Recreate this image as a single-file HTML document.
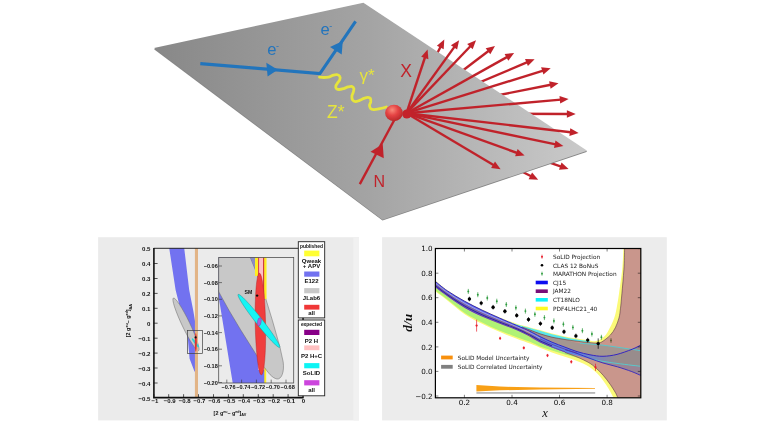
<!DOCTYPE html>
<html><head><meta charset="utf-8"><title>SoLID PVDIS</title>
<style>
html,body{margin:0;padding:0;background:#fff;}
body{width:768px;height:432px;overflow:hidden;}
svg{display:block;font-family:"Liberation Sans",sans-serif;}
.dj{font-family:"DejaVu Sans","Liberation Sans",sans-serif;}
.se{font-family:"Liberation Serif",serif;font-style:italic;}
.b{font-weight:bold;}
</style></head><body>
<svg width="768" height="432" viewBox="0 0 768 432">
<defs><filter id="soft" x="0" y="0" width="768" height="432" filterUnits="userSpaceOnUse"><feGaussianBlur stdDeviation="0.45"/></filter></defs>
<rect width="768" height="432" fill="#ffffff"/>
<g filter="url(#soft)">
<g id="top">
<defs><linearGradient id="pg" gradientUnits="userSpaceOnUse" x1="154" y1="0" x2="587" y2="0"><stop offset="0" stop-color="#888888"/><stop offset="0.5" stop-color="#a4a4a4"/><stop offset="1" stop-color="#cacaca"/></linearGradient>
<radialGradient id="bg" cx="0.4" cy="0.32" r="0.65"><stop offset="0" stop-color="#f98a7a"/><stop offset="0.5" stop-color="#e54444"/><stop offset="1" stop-color="#bc2a2c"/></radialGradient></defs>
<line x1="406.5" y1="113.2" x2="440.7" y2="46.5" stroke="#c0242c" stroke-width="2.40"/><polygon points="444.3,39.6 443.7,49.2 436.9,45.7" fill="#c0242c"/>
<line x1="406.5" y1="113.2" x2="488.8" y2="50.7" stroke="#c0242c" stroke-width="2.40"/><polygon points="495.0,46.0 490.3,54.3 485.7,48.3" fill="#c0242c"/>
<line x1="406.5" y1="113.2" x2="527.4" y2="62.2" stroke="#c0242c" stroke-width="2.40"/><polygon points="534.6,59.2 527.9,66.1 525.0,59.1" fill="#c0242c"/>
<line x1="406.5" y1="113.2" x2="550.8" y2="84.8" stroke="#c0242c" stroke-width="2.40"/><polygon points="558.5,83.3 550.6,88.8 549.1,81.3" fill="#c0242c"/>
<line x1="406.5" y1="113.2" x2="567.9" y2="114.0" stroke="#c0242c" stroke-width="2.40"/><polygon points="575.7,114.0 566.9,117.8 566.9,110.2" fill="#c0242c"/>
<line x1="406.5" y1="113.2" x2="561.2" y2="166.6" stroke="#c0242c" stroke-width="2.40"/><polygon points="568.6,169.1 559.0,169.8 561.5,162.6" fill="#c0242c"/>
<line x1="406.5" y1="113.2" x2="531.2" y2="176.3" stroke="#c0242c" stroke-width="2.40"/><polygon points="538.2,179.8 528.6,179.2 532.1,172.4" fill="#c0242c"/>
<polygon points="154,49.2 363.4,3.5 587.2,151.7 382.5,220.6" fill="#868686"/>
<polygon points="154,48.1 363.4,2.7 587.2,150.8 382.5,219.7" fill="url(#pg)"/>
<polyline points="200.3,63.6 319.9,73.6 355.6,21.4" fill="none" stroke="#2474bc" stroke-width="3.1" stroke-linejoin="miter"/>
<polygon points="266.3,62.8 277.8,69.8 267.6,76.4" fill="#2474bc"/>
<polygon points="342.8,41 330,47 341.7,54.4" fill="#2474bc"/>
<text x="267.2" y="55.2" font-size="16.6" fill="#2474bc">e</text><text x="276" y="49.3" font-size="9" fill="#2474bc">-</text>
<text x="320.4" y="35.0" font-size="16.6" fill="#2474bc">e</text><text x="329.2" y="29.2" font-size="9" fill="#2474bc">-</text>
<path d="M319.5,77.1 C320.2,77.2 322.4,77.5 323.9,77.5 C325.4,77.5 326.9,77.4 328.4,77.1 C329.9,76.8 331.4,75.8 332.8,75.4 C334.3,75.0 335.7,74.5 336.9,74.7 C338.1,74.9 339.4,75.6 339.8,76.5 C340.3,77.3 340.2,78.6 339.8,79.6 C339.5,80.7 338.4,81.8 337.7,82.8 C337.0,83.9 336.0,85.1 335.8,86.0 C335.6,87.0 335.8,88.0 336.4,88.6 C337.0,89.1 338.0,89.5 339.2,89.5 C340.4,89.5 342.2,89.0 343.7,88.6 C345.1,88.1 346.8,87.3 348.1,86.9 C349.5,86.5 350.7,86.1 351.7,86.4 C352.6,86.7 353.6,87.6 353.9,88.6 C354.1,89.6 353.5,91.1 353.2,92.4 C352.9,93.7 352.0,94.9 351.9,96.2 C351.8,97.5 352.0,99.1 352.6,100.0 C353.2,100.9 354.3,101.5 355.5,101.6 C356.7,101.6 358.2,100.9 359.6,100.4 C361.0,99.9 362.7,98.9 364.0,98.4 C365.4,97.9 366.8,97.4 367.9,97.4 C368.9,97.4 369.9,97.6 370.4,98.4 C370.9,99.1 370.8,100.8 370.7,101.9 C370.5,103.1 369.6,104.1 369.5,105.1 C369.5,106.2 369.7,107.6 370.4,108.3 C371.1,109.1 372.2,109.5 373.6,109.6 C375.0,109.7 376.6,109.4 378.7,108.9 C380.8,108.5 385.1,107.4 386.3,107.0" fill="none" stroke="#e6e43c" stroke-width="2.8" stroke-linecap="round" stroke-linejoin="round"/>
<text x="359.5" y="80.6" font-size="17" fill="#e6e43c">γ*</text>
<text x="327" y="118.3" font-size="17.5" fill="#e6e43c">Z*</text>
<line x1="406.5" y1="113.2" x2="425.1" y2="57.0" stroke="#c0242c" stroke-width="2.40"/><polygon points="427.6,49.6 428.4,59.2 421.2,56.8" fill="#c0242c"/>
<line x1="406.5" y1="113.2" x2="454.6" y2="46.6" stroke="#c0242c" stroke-width="2.40"/><polygon points="459.1,40.3 457.1,49.6 450.9,45.2" fill="#c0242c"/>
<line x1="406.5" y1="113.2" x2="470.6" y2="46.0" stroke="#c0242c" stroke-width="2.40"/><polygon points="476.0,40.3 472.7,49.3 467.2,44.1" fill="#c0242c"/>
<line x1="406.5" y1="113.2" x2="507.3" y2="56.9" stroke="#c0242c" stroke-width="2.40"/><polygon points="514.1,53.1 508.3,60.7 504.6,54.0" fill="#c0242c"/>
<line x1="406.5" y1="113.2" x2="543.2" y2="70.6" stroke="#c0242c" stroke-width="2.40"/><polygon points="550.7,68.2 543.4,74.5 541.1,67.2" fill="#c0242c"/>
<line x1="406.5" y1="113.2" x2="560.8" y2="99.6" stroke="#c0242c" stroke-width="2.40"/><polygon points="568.6,98.9 560.2,103.5 559.5,95.9" fill="#c0242c"/>
<line x1="406.5" y1="113.2" x2="570.8" y2="132.2" stroke="#c0242c" stroke-width="2.40"/><polygon points="578.6,133.1 569.4,135.9 570.3,128.3" fill="#c0242c"/>
<line x1="406.5" y1="113.2" x2="555.7" y2="144.4" stroke="#c0242c" stroke-width="2.40"/><polygon points="563.4,146.0 554.0,147.9 555.5,140.5" fill="#c0242c"/>
<line x1="406.5" y1="113.2" x2="517.3" y2="153.0" stroke="#c0242c" stroke-width="2.40"/><polygon points="524.6,155.6 515.1,156.2 517.6,149.1" fill="#c0242c"/>
<line x1="406.5" y1="113.2" x2="493.9" y2="165.3" stroke="#c0242c" stroke-width="2.40"/><polygon points="500.6,169.3 491.1,168.0 495.0,161.5" fill="#c0242c"/>
<line x1="359.8" y1="184.1" x2="394.7" y2="119.3" stroke="#c0242c" stroke-width="2.4"/>
<polygon points="370.5,151.8 382.7,144 383.8,158.2" fill="#c0242c"/>
<ellipse cx="406.8" cy="114" rx="4.6" ry="4.6" fill="#c4222a"/>
<ellipse cx="394" cy="113" rx="8.9" ry="8.3" fill="url(#bg)"/>
<text x="406" y="76.7" font-size="17.5" fill="#c0242c" text-anchor="middle">X</text>
<text x="379.4" y="186.8" font-size="16" fill="#c0242c" text-anchor="middle">N</text>
</g>
<g id="left">
<rect x="98.1" y="237.2" width="260.9" height="183.2" fill="#ebebeb"/><rect x="353.2" y="237.2" width="5.8" height="183.2" fill="#f1f1f1"/>
<defs><clipPath id="cm"><rect x="153.7" y="248.3" width="149.3" height="149.5"/></clipPath><clipPath id="ci"><rect x="218.7" y="257.5" width="75" height="125.5"/></clipPath></defs>
<g clip-path="url(#cm)">
<path d="M169.2,248 L175.6,290 L180.8,310.8 L185,325.4 L187.3,333 L188.4,345 L189.6,358.75 L194.4,371.25 L197.5,374.6 L198,350 L195,321 L193.3,310.8 L189.2,290 L184.2,248 Z" fill="#7272f0"/>
<ellipse cx="186" cy="324.4" rx="29.2" ry="3.9" transform="rotate(64.4 186 324.4)" fill="#c8c8c8" stroke="#707070" stroke-width="0.5"/>
<rect x="194.9" y="248" width="3.1" height="150" fill="#e2b486"/>
<ellipse cx="195.4" cy="342.8" rx="5.6" ry="1" transform="rotate(52 195.4 342.8)" fill="#20d8d8"/>
<ellipse cx="195.8" cy="342.4" rx="1" ry="9.3" fill="#e03030"/>
<circle cx="195.6" cy="337.4" r="1.1" fill="#101010"/>
<rect x="187.5" y="330.4" width="15" height="23.2" fill="none" stroke="#404040" stroke-width="0.7"/>
</g>
<rect x="218.7" y="257.5" width="75" height="125.5" fill="#ebebeb"/>
<g clip-path="url(#ci)">
<rect x="255" y="250" width="11.2" height="140" fill="#ffee22"/>
<polygon points="218.7,297 232.7,383 264.3,383 264.3,330 258,250 210,250" fill="#7272f0"/>
<path d="M200,250 L247,250 L250.3,257.5 L254.8,268.5 L265,296.3 L272.4,320.4 L280,347.4 L283.2,362 C284.5,372 281.5,379.5 277,379 C272,378 268,372.5 264.2,367 L257.3,356.3 L240.6,329.8 L228.8,310 L218.7,291.7 L200,260 Z" fill="#c8c8c8" stroke="#686868" stroke-width="0.5"/>
<polygon points="250.4,257 254.6,257 257.4,275" fill="#8c8cc4"/>
<rect x="255" y="250" width="3" height="26" fill="#ffee22"/>
<rect x="258.2" y="250" width="6.1" height="120" fill="#ffc0c8"/>
<rect x="258.2" y="250" width="0.9" height="30" fill="#d83030"/>
<rect x="263.1" y="250" width="1.3" height="50" fill="#c83030"/>
<rect x="264.4" y="250" width="2" height="49" fill="#ffee22"/>
<ellipse cx="260.4" cy="324" rx="5.2" ry="51" transform="rotate(-1.1 260.4 324)" fill="#f03c3c" stroke="#b02020" stroke-width="0.4"/>
<ellipse cx="258.9" cy="320.9" rx="33.7" ry="3.4" transform="rotate(51.9 258.9 320.9)" fill="#18f4f4" stroke="#208888" stroke-width="0.4"/>
<ellipse cx="259.3" cy="321.8" rx="1.9" ry="4.2" transform="rotate(10 259.3 321.8)" fill="#a860d8" stroke="#603090" stroke-width="0.3"/>
<circle cx="257.1" cy="295.6" r="1.2" fill="#101010"/>
<text x="244.6" y="294.4" font-size="5.2" class="b" fill="#111">SM</text>
</g>
<rect x="218.7" y="257.5" width="75" height="125.5" fill="none" stroke="#505050" stroke-width="0.8"/>
<line x1="218.7" y1="266.0" x2="222" y2="266.0" stroke="#333" stroke-width="0.6"/>
<text x="217.8" y="268.0" font-size="5.6" class="b" text-anchor="end" fill="#111">−0.06</text>
<line x1="218.7" y1="282.6" x2="222" y2="282.6" stroke="#333" stroke-width="0.6"/>
<text x="217.8" y="284.6" font-size="5.6" class="b" text-anchor="end" fill="#111">−0.08</text>
<line x1="218.7" y1="299.3" x2="222" y2="299.3" stroke="#333" stroke-width="0.6"/>
<text x="217.8" y="301.3" font-size="5.6" class="b" text-anchor="end" fill="#111">−0.10</text>
<line x1="218.7" y1="315.9" x2="222" y2="315.9" stroke="#333" stroke-width="0.6"/>
<text x="217.8" y="317.9" font-size="5.6" class="b" text-anchor="end" fill="#111">−0.12</text>
<line x1="218.7" y1="332.6" x2="222" y2="332.6" stroke="#333" stroke-width="0.6"/>
<text x="217.8" y="334.6" font-size="5.6" class="b" text-anchor="end" fill="#111">−0.14</text>
<line x1="218.7" y1="349.2" x2="222" y2="349.2" stroke="#333" stroke-width="0.6"/>
<text x="217.8" y="351.2" font-size="5.6" class="b" text-anchor="end" fill="#111">−0.16</text>
<line x1="218.7" y1="365.8" x2="222" y2="365.8" stroke="#333" stroke-width="0.6"/>
<text x="217.8" y="367.8" font-size="5.6" class="b" text-anchor="end" fill="#111">−0.18</text>
<line x1="218.7" y1="382.5" x2="222" y2="382.5" stroke="#333" stroke-width="0.6"/>
<text x="217.8" y="384.5" font-size="5.6" class="b" text-anchor="end" fill="#111">−0.20</text>
<line x1="226.8" y1="383" x2="226.8" y2="379.6" stroke="#333" stroke-width="0.6"/>
<text x="228.5" y="388.8" font-size="5.6" class="b" text-anchor="middle" fill="#111">−0.76</text>
<line x1="241.6" y1="383" x2="241.6" y2="379.6" stroke="#333" stroke-width="0.6"/>
<text x="243.3" y="388.8" font-size="5.6" class="b" text-anchor="middle" fill="#111">−0.74</text>
<line x1="256.4" y1="383" x2="256.4" y2="379.6" stroke="#333" stroke-width="0.6"/>
<text x="258.1" y="388.8" font-size="5.6" class="b" text-anchor="middle" fill="#111">−0.72</text>
<line x1="271.2" y1="383" x2="271.2" y2="379.6" stroke="#333" stroke-width="0.6"/>
<text x="272.9" y="388.8" font-size="5.6" class="b" text-anchor="middle" fill="#111">−0.70</text>
<line x1="286.0" y1="383" x2="286.0" y2="379.6" stroke="#333" stroke-width="0.6"/>
<text x="287.7" y="388.8" font-size="5.6" class="b" text-anchor="middle" fill="#111">−0.68</text>
<path d="M153.7,248.3 H303 M303,248.3 V397.8" fill="none" stroke="#111" stroke-width="0.9"/>
<path d="M153.9,247.9 V397.6 H303.5" fill="none" stroke="#111" stroke-width="1.6"/>
<text x="150.5" y="251.4" font-size="6.1" class="b" text-anchor="end" fill="#111">0.5</text>
<line x1="153.9" y1="263.5" x2="157.6" y2="263.5" stroke="#111" stroke-width="0.7"/>
<text x="150.5" y="266.3" font-size="6.1" class="b" text-anchor="end" fill="#111">0.4</text>
<line x1="153.9" y1="278.5" x2="157.6" y2="278.5" stroke="#111" stroke-width="0.7"/>
<text x="150.5" y="281.3" font-size="6.1" class="b" text-anchor="end" fill="#111">0.3</text>
<line x1="153.9" y1="293.4" x2="157.6" y2="293.4" stroke="#111" stroke-width="0.7"/>
<text x="150.5" y="296.2" font-size="6.1" class="b" text-anchor="end" fill="#111">0.2</text>
<line x1="153.9" y1="308.3" x2="157.6" y2="308.3" stroke="#111" stroke-width="0.7"/>
<text x="150.5" y="311.1" font-size="6.1" class="b" text-anchor="end" fill="#111">0.1</text>
<line x1="153.9" y1="323.2" x2="157.6" y2="323.2" stroke="#111" stroke-width="0.7"/>
<text x="150.5" y="326.1" font-size="6.1" class="b" text-anchor="end" fill="#111">0</text>
<line x1="153.9" y1="338.2" x2="157.6" y2="338.2" stroke="#111" stroke-width="0.7"/>
<text x="150.5" y="341.0" font-size="6.1" class="b" text-anchor="end" fill="#111">−0.1</text>
<line x1="153.9" y1="353.1" x2="157.6" y2="353.1" stroke="#111" stroke-width="0.7"/>
<text x="150.5" y="355.9" font-size="6.1" class="b" text-anchor="end" fill="#111">−0.2</text>
<line x1="153.9" y1="368.0" x2="157.6" y2="368.0" stroke="#111" stroke-width="0.7"/>
<text x="150.5" y="370.8" font-size="6.1" class="b" text-anchor="end" fill="#111">−0.3</text>
<line x1="153.9" y1="383.0" x2="157.6" y2="383.0" stroke="#111" stroke-width="0.7"/>
<text x="150.5" y="385.8" font-size="6.1" class="b" text-anchor="end" fill="#111">−0.4</text>
<text x="150.5" y="400.7" font-size="6.1" class="b" text-anchor="end" fill="#111">−0.5</text>
<line x1="153.8" y1="397.7" x2="153.8" y2="394.2" stroke="#111" stroke-width="0.7"/>
<text x="154.8" y="403.4" font-size="6" class="b" text-anchor="middle" fill="#111">−1</text>
<line x1="168.7" y1="397.7" x2="168.7" y2="394.2" stroke="#111" stroke-width="0.7"/>
<text x="169.7" y="403.4" font-size="6" class="b" text-anchor="middle" fill="#111">−0.9</text>
<line x1="183.6" y1="397.7" x2="183.6" y2="394.2" stroke="#111" stroke-width="0.7"/>
<text x="184.6" y="403.4" font-size="6" class="b" text-anchor="middle" fill="#111">−0.8</text>
<line x1="198.5" y1="397.7" x2="198.5" y2="394.2" stroke="#111" stroke-width="0.7"/>
<text x="199.5" y="403.4" font-size="6" class="b" text-anchor="middle" fill="#111">−0.7</text>
<line x1="213.5" y1="397.7" x2="213.5" y2="394.2" stroke="#111" stroke-width="0.7"/>
<text x="214.5" y="403.4" font-size="6" class="b" text-anchor="middle" fill="#111">−0.6</text>
<line x1="228.4" y1="397.7" x2="228.4" y2="394.2" stroke="#111" stroke-width="0.7"/>
<text x="229.4" y="403.4" font-size="6" class="b" text-anchor="middle" fill="#111">−0.5</text>
<line x1="243.3" y1="397.7" x2="243.3" y2="394.2" stroke="#111" stroke-width="0.7"/>
<text x="244.3" y="403.4" font-size="6" class="b" text-anchor="middle" fill="#111">−0.4</text>
<line x1="258.3" y1="397.7" x2="258.3" y2="394.2" stroke="#111" stroke-width="0.7"/>
<text x="259.3" y="403.4" font-size="6" class="b" text-anchor="middle" fill="#111">−0.3</text>
<line x1="273.2" y1="397.7" x2="273.2" y2="394.2" stroke="#111" stroke-width="0.7"/>
<text x="274.2" y="403.4" font-size="6" class="b" text-anchor="middle" fill="#111">−0.2</text>
<line x1="288.1" y1="397.7" x2="288.1" y2="394.2" stroke="#111" stroke-width="0.7"/>
<text x="289.1" y="403.4" font-size="6" class="b" text-anchor="middle" fill="#111">−0.1</text>
<line x1="303.1" y1="397.7" x2="303.1" y2="394.2" stroke="#111" stroke-width="0.7"/>
<text x="303.4" y="403.4" font-size="6" class="b" text-anchor="middle" fill="#111">0</text>
<text x="213.6" y="414.8" font-size="5.4" class="b" fill="#111">[2 g<tspan font-size="3.6" dy="-2.2">eu</tspan><tspan dy="2.2">− g</tspan><tspan font-size="3.6" dy="-2.2">ed</tspan><tspan dy="2.2">]</tspan><tspan font-size="3.8" dy="1.2">AV</tspan></text>
<text transform="translate(130.3,337.2) rotate(-90)" font-size="5.4" class="b" fill="#111">[2 g<tspan font-size="3.6" dy="-2.2">eu</tspan><tspan dy="2.2">− g</tspan><tspan font-size="3.6" dy="-2.2">ed</tspan><tspan dy="2.2">]</tspan><tspan font-size="3.8" dy="1.2">AA</tspan></text>
<rect x="298.3" y="241.7" width="26.4" height="76.2" fill="#ffffff" stroke="#222" stroke-width="0.9"/>
<text x="311.5" y="247.8" font-size="4.9" class="b" text-anchor="middle" fill="#111">published</text>
<rect x="304.2" y="250.6" width="15.2" height="5.7" fill="#ffff30"/>
<text x="311.5" y="263.1" font-size="6" class="b" text-anchor="middle" fill="#111">Qweak</text>
<text x="311.5" y="268.4" font-size="6" class="b" text-anchor="middle" fill="#111">+ APV</text>
<rect x="304.2" y="271.5" width="15.2" height="5.2" fill="#7272f0"/>
<text x="311.5" y="283.4" font-size="6" class="b" text-anchor="middle" fill="#111">E122</text>
<rect x="304.2" y="288.1" width="15.2" height="5.2" fill="#c8c8c8"/>
<text x="311.5" y="300.2" font-size="6" class="b" text-anchor="middle" fill="#111">JLab6</text>
<rect x="304.2" y="304.8" width="15.2" height="4.8" fill="#f03838"/>
<text x="311.5" y="315.2" font-size="6" class="b" text-anchor="middle" fill="#111">all</text>
<line x1="303.1" y1="317.9" x2="303.1" y2="320" stroke="#111" stroke-width="1"/>
<rect x="298.3" y="320.0" width="26.4" height="75.8" fill="#ffffff" stroke="#222" stroke-width="0.9"/>
<text x="311.5" y="326.1" font-size="4.9" class="b" text-anchor="middle" fill="#111">expected</text>
<rect x="304.2" y="329.8" width="15.2" height="5.2" fill="#880088"/>
<text x="311.5" y="342.9" font-size="6" class="b" text-anchor="middle" fill="#111">P2 H</text>
<rect x="304.2" y="345.4" width="15.2" height="4.8" fill="#ffc0c0"/>
<text x="311.5" y="357.5" font-size="6" class="b" text-anchor="middle" fill="#111">P2 H+C</text>
<rect x="304.2" y="363.1" width="15.2" height="5.2" fill="#10f4f4"/>
<text x="311.5" y="375.2" font-size="6" class="b" text-anchor="middle" fill="#111">SoLID</text>
<rect x="304.2" y="380.2" width="15.2" height="5.2" fill="#cc44dd"/>
<text x="311.5" y="392.3" font-size="6" class="b" text-anchor="middle" fill="#111">all</text>
</g>
<g id="right" class="dj">
<rect x="382.1" y="237.2" width="284.7" height="183.2" fill="#ececec"/>
<rect x="435.4" y="248.5" width="205.4" height="149.3" fill="#ffffff"/>
<defs><clipPath id="cr"><rect x="435.4" y="248.5" width="205.4" height="149.3"/></clipPath>
<linearGradient id="bgm" gradientUnits="userSpaceOnUse" x1="575" y1="0" x2="618" y2="0"><stop offset="0" stop-color="#5c84e6"/><stop offset="1" stop-color="#988c8c"/></linearGradient></defs>
<g clip-path="url(#cr)">
<path d="M623.5,246.0 C623.5,246.4 623.6,244.7 623.4,248.6 C623.2,252.5 622.9,261.8 622.2,269.3 C621.5,276.8 619.9,287.1 619.0,293.6 C618.1,300.1 617.4,304.1 616.6,308.2 C615.8,312.2 615.3,314.7 614.2,317.9 C613.1,321.1 611.4,324.8 610.0,327.6 C608.6,330.4 607.4,332.9 605.7,334.9 C604.0,336.9 601.4,338.8 599.6,339.8 C597.8,340.9 596.6,341.1 594.7,341.2 C592.8,341.3 591.0,340.6 588.0,340.2 C585.0,339.8 580.8,339.2 577.0,338.6 C573.2,338.0 569.2,337.3 565.0,336.4 C560.8,335.5 556.2,334.5 552.0,333.4 C547.8,332.3 543.7,331.0 540.0,330.0 C536.3,329.0 533.9,328.4 530.0,327.4 C526.1,326.4 521.9,325.5 516.8,323.8 C511.7,322.1 505.2,319.6 499.4,317.2 C493.6,314.8 487.9,312.1 482.1,309.4 C476.3,306.6 470.5,303.9 464.7,300.7 C458.9,297.5 452.3,293.6 447.4,290.3 C442.5,287.0 437.6,282.5 435.2,280.6 C432.8,278.7 433.4,279.2 433.0,278.9 L433.0,289.6 C433.4,289.9 432.8,289.5 435.2,291.3 C437.6,293.1 442.5,296.6 447.4,300.4 C452.3,304.2 458.9,310.3 464.7,314.2 C470.5,318.1 476.3,320.9 482.1,323.8 C487.9,326.7 493.6,329.3 499.4,331.8 C505.2,334.3 511.7,336.8 516.8,338.8 C521.9,340.8 526.1,342.1 530.0,343.6 C533.9,345.1 536.3,346.3 540.0,347.8 C543.7,349.3 547.8,350.9 552.0,352.4 C556.2,353.9 560.8,355.4 565.0,356.8 C569.2,358.2 573.0,359.4 577.0,361.0 C581.0,362.6 585.6,364.5 588.7,366.4 C591.9,368.3 593.5,370.0 595.9,372.3 C598.3,374.6 601.0,377.6 603.1,380.4 C605.2,383.2 607.1,386.2 608.8,389.0 C610.5,391.8 612.2,395.3 613.1,397.0 C614.0,398.7 614.0,398.7 614.2,399.0 L645,399 L645,246 Z" fill="#fbfa78"/>
<path d="M433.0,285.6 C435.4,287.4 442.1,292.6 447.4,296.3 C452.7,300.0 458.9,304.5 464.7,307.9 C470.5,311.3 476.3,314.0 482.1,316.6 C487.9,319.2 493.6,321.2 499.4,323.5 C505.2,325.8 511.7,328.0 516.8,330.2 C521.9,332.4 526.1,334.6 530.0,336.6 C533.9,338.6 536.3,340.6 540.0,342.4 C543.7,344.2 547.8,345.8 552.0,347.4 C556.2,349.0 560.8,350.8 565.0,352.2 C569.2,353.6 572.8,354.5 577.0,355.6 C581.2,356.7 587.8,358.3 590.0,358.8 L590.0,359.6 C587.8,359.2 581.2,358.2 577.0,357.4 C572.8,356.5 569.2,355.7 565.0,354.5 C560.8,353.3 556.2,351.8 552.0,350.4 C547.8,349.0 543.7,347.8 540.0,346.4 C536.3,345.0 533.9,343.3 530.0,341.8 C526.1,340.3 521.9,339.1 516.8,337.2 C511.7,335.3 505.2,332.9 499.4,330.4 C493.6,327.9 487.9,325.3 482.1,322.4 C476.3,319.5 470.5,316.8 464.7,313.0 C458.9,309.2 452.7,303.5 447.4,299.5 C442.1,295.5 435.4,290.6 433.0,288.8 Z" fill="#b0f274"/>
<path d="M499.4,318.0 C502.3,319.1 511.7,322.9 516.8,324.6 C521.9,326.3 526.1,327.0 530.0,328.0 C533.9,329.0 536.3,329.8 540.0,330.8 C543.7,331.8 547.8,333.1 552.0,334.2 C556.2,335.3 560.8,336.3 565.0,337.2 C569.2,338.1 572.8,338.8 577.0,339.4 C581.2,340.0 587.8,340.7 590.0,341.0 L590.0,342.4 C587.8,342.2 581.2,341.7 577.0,341.2 C572.8,340.7 569.2,340.2 565.0,339.5 C560.8,338.8 556.2,338.1 552.0,337.2 C547.8,336.2 543.7,335.0 540.0,333.8 C536.3,332.6 533.9,331.4 530.0,330.0 C526.1,328.6 521.9,327.4 516.8,325.4 C511.7,323.4 502.3,319.2 499.4,318.0 Z" fill="#58e6ea"/>
<path d="M433.0,279.5 C435.4,281.4 442.1,287.3 447.4,290.9 C452.7,294.5 458.9,298.1 464.7,301.3 C470.5,304.5 476.3,307.4 482.1,310.2 C487.9,313.0 493.6,315.4 499.4,318.0 C505.2,320.6 511.7,323.3 516.8,325.5 C521.9,327.7 526.1,329.5 530.0,331.4 C533.9,333.2 536.3,334.8 540.0,336.6 C543.7,338.4 547.8,340.4 552.0,342.2 C556.2,344.0 560.8,345.6 565.0,347.2 C569.2,348.8 572.8,350.3 577.0,351.6 C581.2,352.9 587.8,354.3 590.0,354.8 L590.0,358.8 C587.8,358.3 581.2,356.7 577.0,355.6 C572.8,354.5 569.2,353.6 565.0,352.2 C560.8,350.8 556.2,349.0 552.0,347.4 C547.8,345.8 543.7,344.2 540.0,342.4 C536.3,340.6 533.9,338.6 530.0,336.6 C526.1,334.6 521.9,332.4 516.8,330.2 C511.7,328.0 505.2,325.8 499.4,323.5 C493.6,321.2 487.9,319.2 482.1,316.6 C476.3,314.0 470.5,311.3 464.7,307.9 C458.9,304.5 452.7,300.0 447.4,296.3 C442.1,292.6 435.4,287.4 433.0,285.6 Z" fill="#6870e4"/>
<path d="M624.7,246.0 C624.7,246.4 624.7,244.7 624.6,248.6 C624.5,252.5 624.4,261.8 623.9,269.3 C623.4,276.8 622.5,287.1 621.9,293.6 C621.3,300.1 621.0,304.1 620.5,308.2 C620.0,312.2 619.9,314.7 619.0,317.9 C618.1,321.1 616.8,324.8 615.4,327.6 C614.0,330.4 612.5,332.7 610.5,334.9 C608.5,337.1 605.3,339.6 603.2,341.0 C601.1,342.4 600.4,342.7 598.0,343.0 C595.6,343.3 592.2,342.9 588.8,342.6 C585.2,342.3 581.0,341.7 577.0,341.2 C573.0,340.7 569.2,340.2 565.0,339.5 C560.8,338.8 556.2,338.1 552.0,337.2 C547.8,336.2 543.7,335.0 540.0,333.8 C536.3,332.6 533.0,331.1 530.0,330.0 C527.0,328.9 523.3,327.5 522.0,327.0 L522.0,327.2 C523.3,328.8 527.0,334.4 530.0,336.9 C533.0,339.4 536.3,340.6 540.0,342.4 C543.7,344.1 547.8,345.7 552.0,347.4 C556.2,349.1 560.8,350.9 565.0,352.5 C569.2,354.1 573.0,355.3 577.0,357.0 C581.0,358.7 585.6,360.8 588.7,362.6 C591.9,364.4 593.5,365.9 595.9,368.0 C598.3,370.1 600.7,372.4 603.1,375.2 C605.5,377.9 608.3,381.6 610.3,384.5 C612.3,387.4 614.1,390.4 615.3,392.4 C616.5,394.4 616.8,395.6 617.4,396.7 C618.0,397.8 618.4,398.6 618.6,399.0 L645,399 L645,246 Z" fill="#c9968c"/>
<path d="M522.0,327.0 C523.3,327.5 527.0,328.9 530.0,330.0 C533.0,331.1 536.3,332.6 540.0,333.8 C543.7,335.0 547.8,336.2 552.0,337.2 C556.2,338.2 560.3,338.7 565.0,339.7 C569.7,340.7 573.6,342.3 580.0,343.2 C586.4,344.1 596.9,344.5 603.1,345.2 C609.3,345.9 612.6,346.5 617.4,347.2 C622.2,347.9 627.7,348.7 631.8,349.3 C635.9,349.9 640.3,350.7 642.0,351.0 L642.0,344.5 C640.3,345.3 636.2,347.7 632.0,349.3 C627.8,350.9 621.8,353.2 617.0,354.4 C612.2,355.6 607.5,356.2 603.0,356.3 C598.5,356.4 594.3,355.6 590.0,354.8 C585.7,354.0 581.2,352.9 577.0,351.6 C572.8,350.3 569.2,348.8 565.0,347.2 C560.8,345.6 556.2,344.0 552.0,342.2 C547.8,340.4 543.7,338.4 540.0,336.6 C536.3,334.8 533.0,333.0 530.0,331.4 C527.0,329.8 523.3,327.9 522.0,327.2 Z" fill="#a49690"/>
<path d="M530.0,331.4 C531.7,332.3 536.3,334.8 540.0,336.6 C543.7,338.4 547.8,340.4 552.0,342.2 C556.2,344.0 560.8,345.6 565.0,347.2 C569.2,348.8 572.8,350.3 577.0,351.6 C581.2,352.9 585.7,354.0 590.0,354.8 C594.3,355.6 598.5,356.4 603.0,356.3 C607.5,356.2 612.2,355.6 617.0,354.4 C621.8,353.2 627.8,350.9 632.0,349.3 C636.2,347.7 640.3,345.3 642.0,344.5 L642.0,366.4 C640.3,366.2 636.2,365.8 632.0,365.3 C627.8,364.8 621.8,364.0 617.0,363.4 C612.2,362.8 607.5,362.2 603.0,361.4 C598.5,360.6 594.3,359.8 590.0,358.8 C585.7,357.8 581.2,356.7 577.0,355.6 C572.8,354.5 569.2,353.6 565.0,352.2 C560.8,350.8 556.2,349.0 552.0,347.4 C547.8,345.8 543.7,344.2 540.0,342.4 C536.3,340.6 531.7,337.6 530.0,336.6 Z" fill="url(#bgm)"/>
<path d="M590.0,358.8 C592.2,359.2 598.5,360.6 603.0,361.4 C607.5,362.2 612.2,362.8 617.0,363.4 C621.8,364.0 627.8,364.8 632.0,365.3 C636.2,365.8 640.3,366.2 642.0,366.4 L642.0,376.0 C640.3,375.3 635.9,373.1 631.8,371.6 C627.7,370.1 622.2,368.2 617.4,366.8 C612.6,365.4 607.7,364.4 603.1,363.0 C598.5,361.6 592.2,359.2 590.0,358.4 Z" fill="#9a8494"/>
<path d="M522.0,327.0 C523.3,327.5 527.0,328.9 530.0,330.0 C533.0,331.1 536.3,332.6 540.0,333.8 C543.7,335.0 547.8,336.2 552.0,337.2 C556.2,338.1 560.8,338.8 565.0,339.5 C569.2,340.2 573.0,340.7 577.0,341.2 C581.0,341.7 585.2,342.3 588.8,342.6 C592.2,342.9 595.6,343.3 598.0,343.0 C600.4,342.7 601.1,342.4 603.2,341.0 C605.3,339.6 608.5,337.1 610.5,334.9 C612.5,332.7 614.0,330.4 615.4,327.6 C616.8,324.8 618.1,321.1 619.0,317.9 C619.9,314.7 620.0,312.2 620.5,308.2 C621.0,304.1 621.3,300.1 621.9,293.6 C622.5,287.1 623.4,276.8 623.9,269.3 C624.4,261.8 624.5,252.5 624.6,248.6 C624.7,244.7 624.7,246.4 624.7,246.0" fill="none" stroke="#401c38" stroke-width="0.5"/>
<path d="M565.0,352.5 C567.0,353.2 573.0,355.3 577.0,357.0 C581.0,358.7 585.6,360.8 588.7,362.6 C591.9,364.4 593.5,365.9 595.9,368.0 C598.3,370.1 600.7,372.4 603.1,375.2 C605.5,377.9 608.3,381.6 610.3,384.5 C612.3,387.4 614.1,390.4 615.3,392.4 C616.5,394.4 616.8,395.6 617.4,396.7 C618.0,397.8 618.4,398.6 618.6,399.0" fill="none" stroke="#401c38" stroke-width="0.5"/>
<path d="M580.0,343.2 C583.9,343.5 596.9,344.5 603.1,345.2 C609.3,345.9 612.6,346.5 617.4,347.2 C622.2,347.9 627.7,348.7 631.8,349.3 C635.9,349.9 640.3,350.7 642.0,351.0" fill="none" stroke="#58c8cc" stroke-width="1"/>
<path d="M590.0,358.8 C592.2,359.2 598.5,360.6 603.0,361.4 C607.5,362.2 612.2,362.8 617.0,363.4 C621.8,364.0 627.8,364.8 632.0,365.3 C636.2,365.8 640.3,366.2 642.0,366.4" fill="none" stroke="#58c8cc" stroke-width="1"/>
<path d="M433.0,279.5 C435.4,281.4 442.1,287.3 447.4,290.9 C452.7,294.5 458.9,298.1 464.7,301.3 C470.5,304.5 476.3,307.4 482.1,310.2 C487.9,313.0 493.6,315.4 499.4,318.0 C505.2,320.6 511.7,323.3 516.8,325.5 C521.9,327.7 526.1,329.5 530.0,331.4 C533.9,333.2 536.3,334.8 540.0,336.6 C543.7,338.4 547.8,340.4 552.0,342.2 C556.2,344.0 560.8,345.6 565.0,347.2 C569.2,348.8 572.8,350.3 577.0,351.6 C581.2,352.9 585.7,354.0 590.0,354.8 C594.3,355.6 598.5,356.4 603.0,356.3 C607.5,356.2 612.2,355.6 617.0,354.4 C621.8,353.2 627.8,350.9 632.0,349.3 C636.2,347.7 640.3,345.3 642.0,344.5" fill="none" stroke="#3426c0" stroke-width="1"/>
<path d="M565.0,349.6 C567.0,350.2 572.8,351.9 577.0,353.4 C581.2,354.9 585.6,356.8 590.0,358.4 C594.4,360.0 598.5,361.6 603.1,363.0 C607.7,364.4 612.6,365.4 617.4,366.8 C622.2,368.2 627.7,370.1 631.8,371.6 C635.9,373.1 640.3,375.3 642.0,376.0" fill="none" stroke="#3426c0" stroke-width="0.9"/>
<path d="M433.0,281.3 C435.4,283.2 442.1,288.9 447.4,292.5 C452.7,296.2 458.9,300.0 464.7,303.3 C470.5,306.5 476.3,309.4 482.1,312.1 C487.9,314.8 493.6,317.2 499.4,319.6 C505.2,322.1 511.7,324.7 516.8,326.9 C521.9,329.1 526.1,331.1 530.0,333.0 C533.9,334.9 538.3,337.4 540.0,338.3" fill="none" stroke="#9aa0f4" stroke-width="1.0"/>
<path d="M433.0,282.4 C435.4,284.3 442.1,289.8 447.4,293.5 C452.7,297.2 458.9,301.2 464.7,304.5 C470.5,307.8 476.3,310.6 482.1,313.3 C487.9,316.0 493.6,318.2 499.4,320.6 C505.2,323.1 511.7,325.5 516.8,327.8 C521.9,330.0 526.1,332.0 530.0,333.9 C533.9,335.8 538.3,338.5 540.0,339.4" fill="none" stroke="#9a5c58" stroke-width="0.7"/>
<path d="M433.0,283.8 C435.4,285.6 442.1,291.0 447.4,294.7 C452.7,298.4 458.9,302.6 464.7,305.9 C470.5,309.3 476.3,312.0 482.1,314.7 C487.9,317.3 493.6,319.5 499.4,321.9 C505.2,324.2 511.7,326.6 516.8,328.8 C521.9,331.0 526.1,333.1 530.0,335.0 C533.9,337.0 536.3,338.9 540.0,340.7 C543.7,342.5 550.0,345.0 552.0,345.8" fill="none" stroke="#34249c" stroke-width="1.1"/>
<path d="M433.0,285.1 C435.4,286.9 442.1,292.2 447.4,295.9 C452.7,299.6 458.9,304.0 464.7,307.4 C470.5,310.7 476.3,313.5 482.1,316.1 C487.9,318.7 493.6,320.8 499.4,323.1 C505.2,325.3 511.7,327.6 516.8,329.8 C521.9,332.0 526.1,334.2 530.0,336.2 C533.9,338.2 536.3,340.1 540.0,341.9 C543.7,343.7 547.8,345.3 552.0,347.0 C556.2,348.6 562.8,351.0 565.0,351.8" fill="none" stroke="#6a2c8c" stroke-width="0.7"/>
<path d="M540.0,338.9 C542.0,339.8 547.8,342.6 552.0,344.3 C556.2,346.0 560.8,347.7 565.0,349.2 C569.2,350.7 575.0,352.5 577.0,353.2" fill="none" stroke="#6a2c8c" stroke-width="0.7"/>
</g>
<line x1="468.3" y1="288.9" x2="468.3" y2="293.9" stroke="#2c9a3c" stroke-width="0.7"/>
<circle cx="468.3" cy="291.4" r="0.95" fill="#2c9a3c"/>
<line x1="477.8" y1="292.2" x2="477.8" y2="297.2" stroke="#2c9a3c" stroke-width="0.7"/>
<circle cx="477.8" cy="294.7" r="0.95" fill="#2c9a3c"/>
<line x1="487.3" y1="295.5" x2="487.3" y2="300.5" stroke="#2c9a3c" stroke-width="0.7"/>
<circle cx="487.3" cy="298.0" r="0.95" fill="#2c9a3c"/>
<line x1="496.8" y1="298.7" x2="496.8" y2="303.7" stroke="#2c9a3c" stroke-width="0.7"/>
<circle cx="496.8" cy="301.2" r="0.95" fill="#2c9a3c"/>
<line x1="506.3" y1="302.0" x2="506.3" y2="307.0" stroke="#2c9a3c" stroke-width="0.7"/>
<circle cx="506.3" cy="304.5" r="0.95" fill="#2c9a3c"/>
<line x1="515.9" y1="305.3" x2="515.9" y2="310.3" stroke="#2c9a3c" stroke-width="0.7"/>
<circle cx="515.9" cy="307.8" r="0.95" fill="#2c9a3c"/>
<line x1="525.4" y1="308.6" x2="525.4" y2="313.6" stroke="#2c9a3c" stroke-width="0.7"/>
<circle cx="525.4" cy="311.1" r="0.95" fill="#2c9a3c"/>
<line x1="534.9" y1="311.8" x2="534.9" y2="316.8" stroke="#2c9a3c" stroke-width="0.7"/>
<circle cx="534.9" cy="314.3" r="0.95" fill="#2c9a3c"/>
<line x1="544.4" y1="315.1" x2="544.4" y2="320.1" stroke="#2c9a3c" stroke-width="0.7"/>
<circle cx="544.4" cy="317.6" r="0.95" fill="#2c9a3c"/>
<line x1="553.9" y1="318.4" x2="553.9" y2="323.4" stroke="#2c9a3c" stroke-width="0.7"/>
<circle cx="553.9" cy="320.9" r="0.95" fill="#2c9a3c"/>
<line x1="563.4" y1="321.7" x2="563.4" y2="326.7" stroke="#2c9a3c" stroke-width="0.7"/>
<circle cx="563.4" cy="324.2" r="0.95" fill="#2c9a3c"/>
<line x1="572.9" y1="324.9" x2="572.9" y2="329.9" stroke="#2c9a3c" stroke-width="0.7"/>
<circle cx="572.9" cy="327.4" r="0.95" fill="#2c9a3c"/>
<line x1="582.4" y1="328.2" x2="582.4" y2="333.2" stroke="#2c9a3c" stroke-width="0.7"/>
<circle cx="582.4" cy="330.7" r="0.95" fill="#2c9a3c"/>
<line x1="591.9" y1="331.5" x2="591.9" y2="336.5" stroke="#2c9a3c" stroke-width="0.7"/>
<circle cx="591.9" cy="334.0" r="0.95" fill="#2c9a3c"/>
<line x1="601.4" y1="334.8" x2="601.4" y2="339.8" stroke="#2c9a3c" stroke-width="0.7"/>
<circle cx="601.4" cy="337.3" r="0.95" fill="#2c9a3c"/>
<line x1="611.0" y1="338.0" x2="611.0" y2="343.0" stroke="#5c5a34" stroke-width="0.7"/>
<circle cx="611.0" cy="340.5" r="0.95" fill="#5c5a34"/>
<line x1="469.4" y1="296.7" x2="469.4" y2="301.3" stroke="#000" stroke-width="0.7"/>
<circle cx="469.4" cy="299.0" r="1.7" fill="#000"/>
<line x1="481.2" y1="300.8" x2="481.2" y2="305.4" stroke="#000" stroke-width="0.7"/>
<circle cx="481.2" cy="303.1" r="1.7" fill="#000"/>
<line x1="493.1" y1="304.9" x2="493.1" y2="309.5" stroke="#000" stroke-width="0.7"/>
<circle cx="493.1" cy="307.2" r="1.7" fill="#000"/>
<line x1="504.9" y1="309.0" x2="504.9" y2="313.6" stroke="#000" stroke-width="0.7"/>
<circle cx="504.9" cy="311.3" r="1.7" fill="#000"/>
<line x1="516.7" y1="313.1" x2="516.7" y2="317.7" stroke="#000" stroke-width="0.7"/>
<circle cx="516.7" cy="315.4" r="1.7" fill="#000"/>
<line x1="528.5" y1="317.2" x2="528.5" y2="321.8" stroke="#000" stroke-width="0.7"/>
<circle cx="528.5" cy="319.5" r="1.7" fill="#000"/>
<line x1="540.4" y1="321.3" x2="540.4" y2="325.9" stroke="#000" stroke-width="0.7"/>
<circle cx="540.4" cy="323.6" r="1.7" fill="#000"/>
<line x1="552.2" y1="325.4" x2="552.2" y2="330.0" stroke="#000" stroke-width="0.7"/>
<circle cx="552.2" cy="327.7" r="1.7" fill="#000"/>
<line x1="564.0" y1="329.5" x2="564.0" y2="334.1" stroke="#000" stroke-width="0.7"/>
<circle cx="564.0" cy="331.8" r="1.7" fill="#000"/>
<line x1="575.9" y1="333.6" x2="575.9" y2="338.2" stroke="#000" stroke-width="0.7"/>
<circle cx="575.9" cy="335.9" r="1.7" fill="#000"/>
<line x1="587.7" y1="337.8" x2="587.7" y2="342.4" stroke="#000" stroke-width="0.7"/>
<circle cx="587.7" cy="340.1" r="1.7" fill="#000"/>
<line x1="598.2" y1="338.4" x2="598.2" y2="348.8" stroke="#000" stroke-width="0.7"/>
<circle cx="598.2" cy="343.6" r="1.7" fill="#000"/>
<line x1="476.6" y1="319.6" x2="476.6" y2="331.6" stroke="#e8202c" stroke-width="0.7"/>
<circle cx="476.6" cy="325.6" r="1.15" fill="#e8202c"/>
<line x1="500.1" y1="336.7" x2="500.1" y2="339.9" stroke="#e8202c" stroke-width="0.7"/>
<circle cx="500.1" cy="338.3" r="1.15" fill="#e8202c"/>
<line x1="523.8" y1="346.3" x2="523.8" y2="349.5" stroke="#e8202c" stroke-width="0.7"/>
<circle cx="523.8" cy="347.9" r="1.15" fill="#e8202c"/>
<line x1="547.5" y1="353.9" x2="547.5" y2="357.1" stroke="#e8202c" stroke-width="0.7"/>
<circle cx="547.5" cy="355.5" r="1.15" fill="#e8202c"/>
<line x1="571.3" y1="360.0" x2="571.3" y2="363.6" stroke="#e8202c" stroke-width="0.7"/>
<circle cx="571.3" cy="361.8" r="1.15" fill="#e8202c"/>
<line x1="595.5" y1="363.7" x2="595.5" y2="370.9" stroke="#e8202c" stroke-width="0.7"/>
<circle cx="595.5" cy="367.3" r="1.15" fill="#e8202c"/>
<polygon points="476.4,384.9 500,386.6 540,387.6 595,388.0 595,388.7 540,389.4 500,390.3 476.4,391.6" fill="#f8a018"/>
<rect x="476.4" y="392.4" width="118.8" height="1.1" fill="#8a8a8a"/>
<line x1="542" y1="254.6" x2="542" y2="258.8" stroke="#e8202c" stroke-width="0.6"/><circle cx="542" cy="256.7" r="1" fill="#e8202c"/>
<circle cx="542" cy="265.2" r="1.3" fill="#000"/>
<line x1="542" y1="271.6" x2="542" y2="275.8" stroke="#2c9a3c" stroke-width="0.6"/><circle cx="542" cy="273.7" r="0.9" fill="#2c9a3c"/>
<text x="553" y="258.8" font-size="5.8" fill="#1a1a1a">SoLID Projection</text>
<text x="553" y="267.5" font-size="5.8" fill="#1a1a1a">CLAS 12 BoNuS</text>
<text x="553" y="276.1" font-size="5.8" fill="#1a1a1a">MARATHON Projection</text>
<text x="553" y="284.8" font-size="5.8" fill="#1a1a1a">CJ15</text>
<text x="553" y="293.4" font-size="5.8" fill="#1a1a1a">JAM22</text>
<text x="553" y="302.1" font-size="5.8" fill="#1a1a1a">CT18NLO</text>
<text x="553" y="310.8" font-size="5.8" fill="#1a1a1a">PDF4LHC21_40</text>
<rect x="535.7" y="280.7" width="12.1" height="3.6" fill="#0808f0"/>
<rect x="535.7" y="289.4" width="12.1" height="3.6" fill="#780878"/>
<rect x="535.7" y="298.0" width="12.1" height="3.6" fill="#10f0f8"/>
<rect x="535.7" y="306.7" width="12.1" height="3.6" fill="#fdfb20"/>
<rect x="441.1" y="355.6" width="11.6" height="3.8" fill="#f89010"/>
<rect x="441.1" y="364.9" width="11.6" height="3.8" fill="#808080"/>
<text x="457.8" y="359.5" font-size="5.8" fill="#1a1a1a">SoLID Model Uncertainty</text>
<text x="457.8" y="368.8" font-size="5.8" fill="#1a1a1a">SoLID Correlated Uncertainty</text>
<rect x="435.4" y="248.5" width="205.4" height="149.3" fill="none" stroke="#000" stroke-width="1.2"/>
<line x1="435.4" y1="248.6" x2="438.4" y2="248.6" stroke="#000" stroke-width="0.5"/><line x1="640.8" y1="248.6" x2="637.8" y2="248.6" stroke="#000" stroke-width="0.5"/>
<text x="432.7" y="251.2" font-size="7.2" text-anchor="end" fill="#080808">1.0</text>
<line x1="435.4" y1="273.2" x2="438.4" y2="273.2" stroke="#000" stroke-width="0.5"/><line x1="640.8" y1="273.2" x2="637.8" y2="273.2" stroke="#000" stroke-width="0.5"/>
<text x="432.7" y="275.8" font-size="7.2" text-anchor="end" fill="#080808">0.8</text>
<line x1="435.4" y1="297.7" x2="438.4" y2="297.7" stroke="#000" stroke-width="0.5"/><line x1="640.8" y1="297.7" x2="637.8" y2="297.7" stroke="#000" stroke-width="0.5"/>
<text x="432.7" y="300.3" font-size="7.2" text-anchor="end" fill="#080808">0.6</text>
<line x1="435.4" y1="322.3" x2="438.4" y2="322.3" stroke="#000" stroke-width="0.5"/><line x1="640.8" y1="322.3" x2="637.8" y2="322.3" stroke="#000" stroke-width="0.5"/>
<text x="432.7" y="324.9" font-size="7.2" text-anchor="end" fill="#080808">0.4</text>
<line x1="435.4" y1="346.9" x2="438.4" y2="346.9" stroke="#000" stroke-width="0.5"/><line x1="640.8" y1="346.9" x2="637.8" y2="346.9" stroke="#000" stroke-width="0.5"/>
<text x="432.7" y="349.5" font-size="7.2" text-anchor="end" fill="#080808">0.2</text>
<line x1="435.4" y1="371.4" x2="438.4" y2="371.4" stroke="#000" stroke-width="0.5"/><line x1="640.8" y1="371.4" x2="637.8" y2="371.4" stroke="#000" stroke-width="0.5"/>
<text x="432.7" y="374.1" font-size="7.2" text-anchor="end" fill="#080808">0.0</text>
<line x1="435.4" y1="396.0" x2="438.4" y2="396.0" stroke="#000" stroke-width="0.5"/><line x1="640.8" y1="396.0" x2="637.8" y2="396.0" stroke="#000" stroke-width="0.5"/>
<text x="432.7" y="398.6" font-size="7.2" text-anchor="end" fill="#080808">−0.2</text>
<line x1="464.4" y1="397.8" x2="464.4" y2="394.8" stroke="#000" stroke-width="0.5"/><line x1="464.4" y1="248.5" x2="464.4" y2="251.5" stroke="#000" stroke-width="0.5"/>
<text x="464.4" y="405.2" font-size="7.2" text-anchor="middle" fill="#080808">0.2</text>
<line x1="512.0" y1="397.8" x2="512.0" y2="394.8" stroke="#000" stroke-width="0.5"/><line x1="512.0" y1="248.5" x2="512.0" y2="251.5" stroke="#000" stroke-width="0.5"/>
<text x="512.0" y="405.2" font-size="7.2" text-anchor="middle" fill="#080808">0.4</text>
<line x1="559.5" y1="397.8" x2="559.5" y2="394.8" stroke="#000" stroke-width="0.5"/><line x1="559.5" y1="248.5" x2="559.5" y2="251.5" stroke="#000" stroke-width="0.5"/>
<text x="559.5" y="405.2" font-size="7.2" text-anchor="middle" fill="#080808">0.6</text>
<line x1="607.1" y1="397.8" x2="607.1" y2="394.8" stroke="#000" stroke-width="0.5"/><line x1="607.1" y1="248.5" x2="607.1" y2="251.5" stroke="#000" stroke-width="0.5"/>
<text x="607.1" y="405.2" font-size="7.2" text-anchor="middle" fill="#080808">0.8</text>
<text x="545" y="416.8" font-size="12.6" class="se" text-anchor="middle" fill="#111">x</text>
<text transform="translate(412.4,322.8) rotate(-90)" font-size="13.4" font-weight="bold" class="se" text-anchor="middle" fill="#111">d/u</text>
</g>
</g>
</svg>
</body></html>
